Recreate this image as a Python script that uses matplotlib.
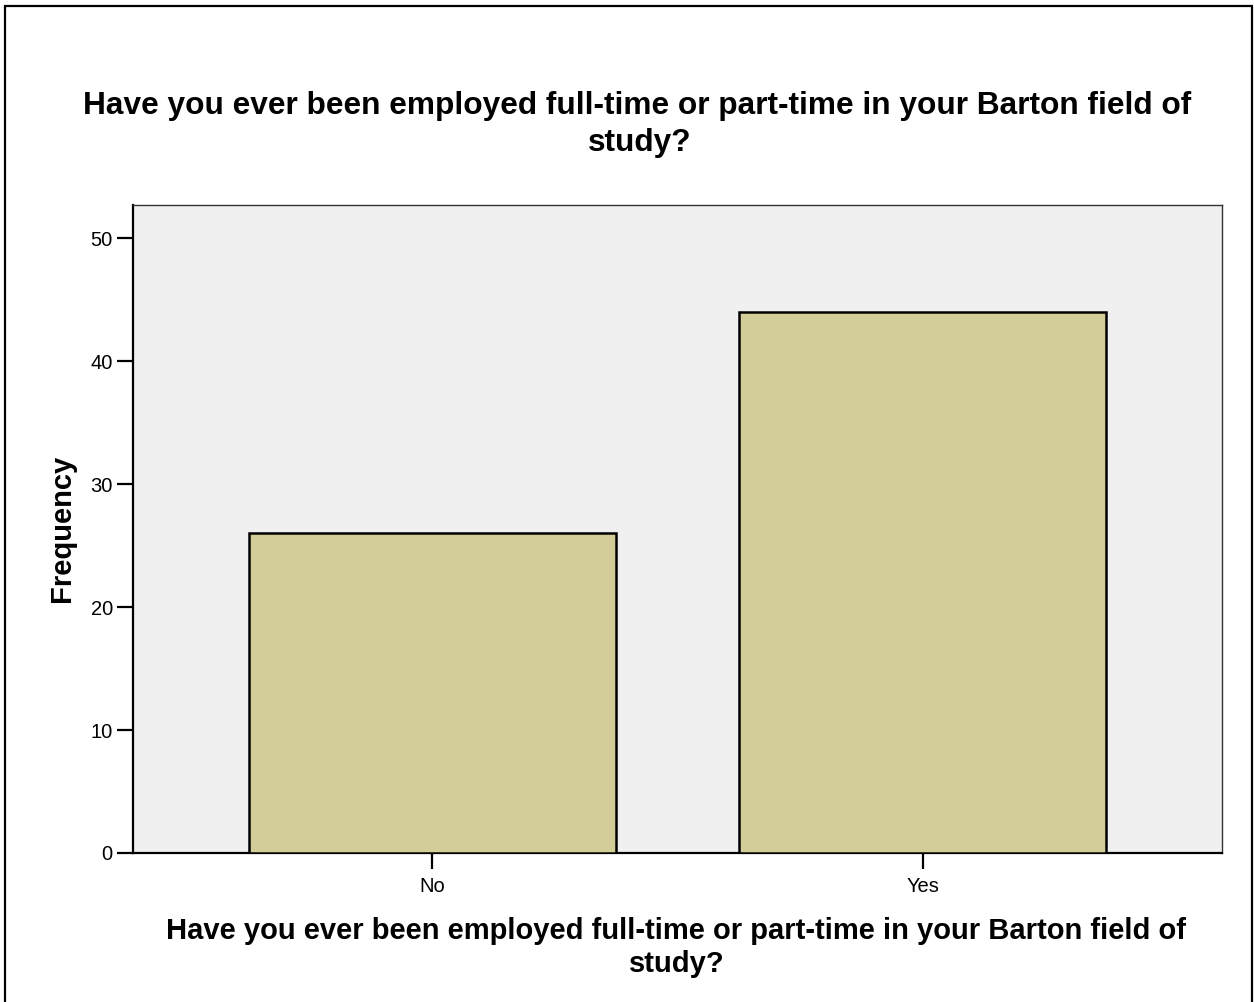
import matplotlib
matplotlib.use('Agg')
import matplotlib.pyplot as plt
from matplotlib.patches import Rectangle

# Data
categories = ['No', 'Yes']
frequency = [26, 44]
y_ticks = [0, 10, 20, 30, 40, 50]
title_lines = ['Have you ever been employed full-time or part-time in your Barton field of', 'study?']

plt.rcParams['font.family'] = ['Liberation Sans', 'DejaVu Sans']

fig = plt.figure(figsize=(12.54, 10.02), dpi=100)
W, H = 1254, 1002

# outer frame
fig.patches.append(Rectangle((5 / W, -0.01), (1252 - 5) / W, 1 - 6 / H + 0.01,
                             transform=fig.transFigure, fill=False,
                             edgecolor='black', linewidth=1.6))

ax = fig.add_axes([133 / W, 1 - 853 / H, (1222 - 133) / W, (853 - 205) / H])
ax.set_facecolor('#F0F0F0')

x = list(range(len(categories)))
ax.bar(x, frequency, width=0.75, color='#D3CE98', edgecolor='black', linewidth=1.8, zorder=3)

ax.set_xlim(-0.611, 1.611)
ax.set_ylim(0, 52.7)
ax.set_xticks(x)
ax.set_xticklabels(categories)
ax.set_yticks(y_ticks)
ax.tick_params(axis='both', direction='out', length=11.5, width=1.6, labelsize=14.5, color='black')
ax.tick_params(axis='y', pad=3)
ax.tick_params(axis='x', pad=6)

for side in ['left', 'bottom']:
    ax.spines[side].set_linewidth(1.6)
    ax.spines[side].set_color('black')
for side in ['top', 'right']:
    ax.spines[side].set_linewidth(1.0)
    ax.spines[side].set_color('#333333')

# title
fig.text(637 / W, 1 - 114 / H, title_lines[0], ha='center', va='baseline', fontsize=22.8, fontweight='bold')
fig.text(640 / W, 1 - 151 / H, title_lines[1], ha='center', va='baseline', fontsize=22.8, fontweight='bold')

# x label
fig.text(675.5 / W, 1 - 939 / H, title_lines[0], ha='center', va='baseline', fontsize=21, fontweight='bold')
fig.text(677 / W, 1 - 972 / H, title_lines[1], ha='center', va='baseline', fontsize=21, fontweight='bold')

# y label
fig.text(62 / W, 1 - 528 / H, 'Frequency', ha='center', va='center', rotation=90, fontsize=21, fontweight='bold')

fig.savefig('out.png', dpi=100)
